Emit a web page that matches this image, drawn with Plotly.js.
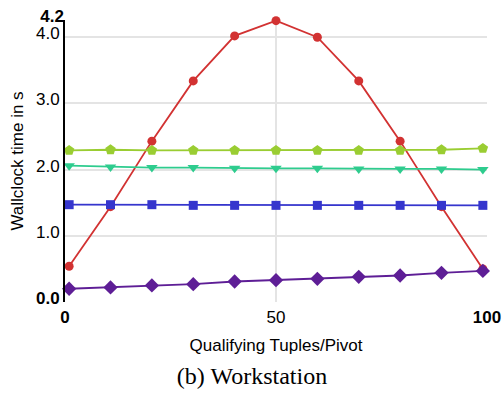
<!DOCTYPE html>
<html>
<head>
<meta charset="utf-8">
<script src="https://cdn.plot.ly/plotly-3.0.1.min.js"></script>
<style>html,body{margin:0;padding:0;background:#fff;}#chart{width:504px;height:394px;}</style>
</head>
<body>
<div id="chart"></div>
<script>
const xValues = [0, 10, 20, 30, 40, 50, 60, 70, 80, 90, 100];
const redSeries = [0.54, 1.44, 2.43, 3.34, 4.02, 4.25, 4.00, 3.34, 2.43, 1.44, 0.50];
const greenSeries = [2.29, 2.30, 2.29, 2.29, 2.29, 2.29, 2.29, 2.29, 2.29, 2.30, 2.32];
const tealSeries = [2.06, 2.04, 2.03, 2.03, 2.02, 2.02, 2.02, 2.01, 2.01, 2.01, 2.00];
const blueSeries = [1.47, 1.47, 1.47, 1.46, 1.46, 1.46, 1.46, 1.46, 1.46, 1.46, 1.46];
const purpleSeries = [0.20, 0.22, 0.25, 0.27, 0.31, 0.33, 0.35, 0.38, 0.40, 0.44, 0.47];
const yTickVals = [0, 1, 2, 3, 4];
const yTickText = ['<b>0.0</b>', '1.0', '2.0', '3.0', '4.0'];
const yMaxVal = [4.2];
const yMaxLabel = ['<b>4.2</b>'];
const xTickVals = [50];
const xTickText = ['50'];
const xEndVals = [0, 100];
const xEndLabels = ['<b>0</b>', '<b>100</b>'];

function series(y, color, symbol, size) {
  return {
    x: xValues, y: y, type: 'scatter', mode: 'lines+markers',
    line: {color: color, width: 1.8},
    marker: {color: color, symbol: symbol, size: size},
    cliponaxis: false, showlegend: false, hoverinfo: 'skip'
  };
}
const data = [
  series(redSeries, '#d23232', 'circle', 9),
  series(greenSeries, '#9acd32', 'pentagon', 11),
  series(tealSeries, '#2ecc8e', 'triangle-down', 10),
  series(blueSeries, '#3535cd', 'square', 9),
  series(purpleSeries, '#5e1e96', 'diamond', 11),
  {x: [], y: [], xaxis: 'x2', yaxis: 'y2', type: 'scatter', showlegend: false, hoverinfo: 'skip'}
];
const sans = 'Liberation Sans, Arial, sans-serif';
const yRange = [0, 4.26];
const layout = {
  width: 504, height: 394,
  margin: {l: 64.5, r: 17, t: 20, b: 92},
  paper_bgcolor: '#fff', plot_bgcolor: '#fff',
  showlegend: false,
  font: {family: sans, size: 17, color: '#000'},
  title: {text: '(b) Workstation', font: {family: 'Liberation Serif, Times New Roman, serif', size: 24, color: '#000'},
    x: 0.5, xref: 'container', xanchor: 'center', y: 0.047, yref: 'container', yanchor: 'middle'},
  xaxis: {
    range: [-1, 101], tickvals: xTickVals, ticktext: xTickText,
    showgrid: true, gridcolor: '#e4e4e4', gridwidth: 2, zeroline: false,
    showline: false, ticks: '', tickfont: {size: 17}, ticklabelstandoff: 3,
    title: {text: 'Qualifying Tuples/Pivot', font: {size: 17}, standoff: 13}
  },
  xaxis2: {
    overlaying: 'x', anchor: 'y', side: 'bottom', range: [0, 100],
    tickvals: xEndVals, ticktext: xEndLabels, showgrid: false, zeroline: false,
    showline: false, ticks: '', tickfont: {size: 17}, ticklabelstandoff: 3
  },
  yaxis: {
    range: yRange, tickvals: yTickVals, ticktext: yTickText,
    showgrid: true, gridcolor: '#e4e4e4', gridwidth: 2, zeroline: false,
    showline: true, linecolor: '#000', linewidth: 2, ticks: '', tickfont: {size: 17},
    ticklabelshift: -4, ticklabelstandoff: 0,
    title: {text: 'Wallclock time in s', font: {size: 17}, standoff: 8}
  },
  yaxis2: {
    overlaying: 'y', anchor: 'x', side: 'left', range: yRange,
    tickvals: yMaxVal, ticktext: yMaxLabel, showgrid: false, zeroline: false,
    showline: false, ticks: '', tickfont: {size: 17}, ticklabelshift: -8, ticklabelstandoff: 0
  }
};
Plotly.newPlot('chart', data, layout, {staticPlot: true, displayModeBar: false});
</script>
</body>
</html>
